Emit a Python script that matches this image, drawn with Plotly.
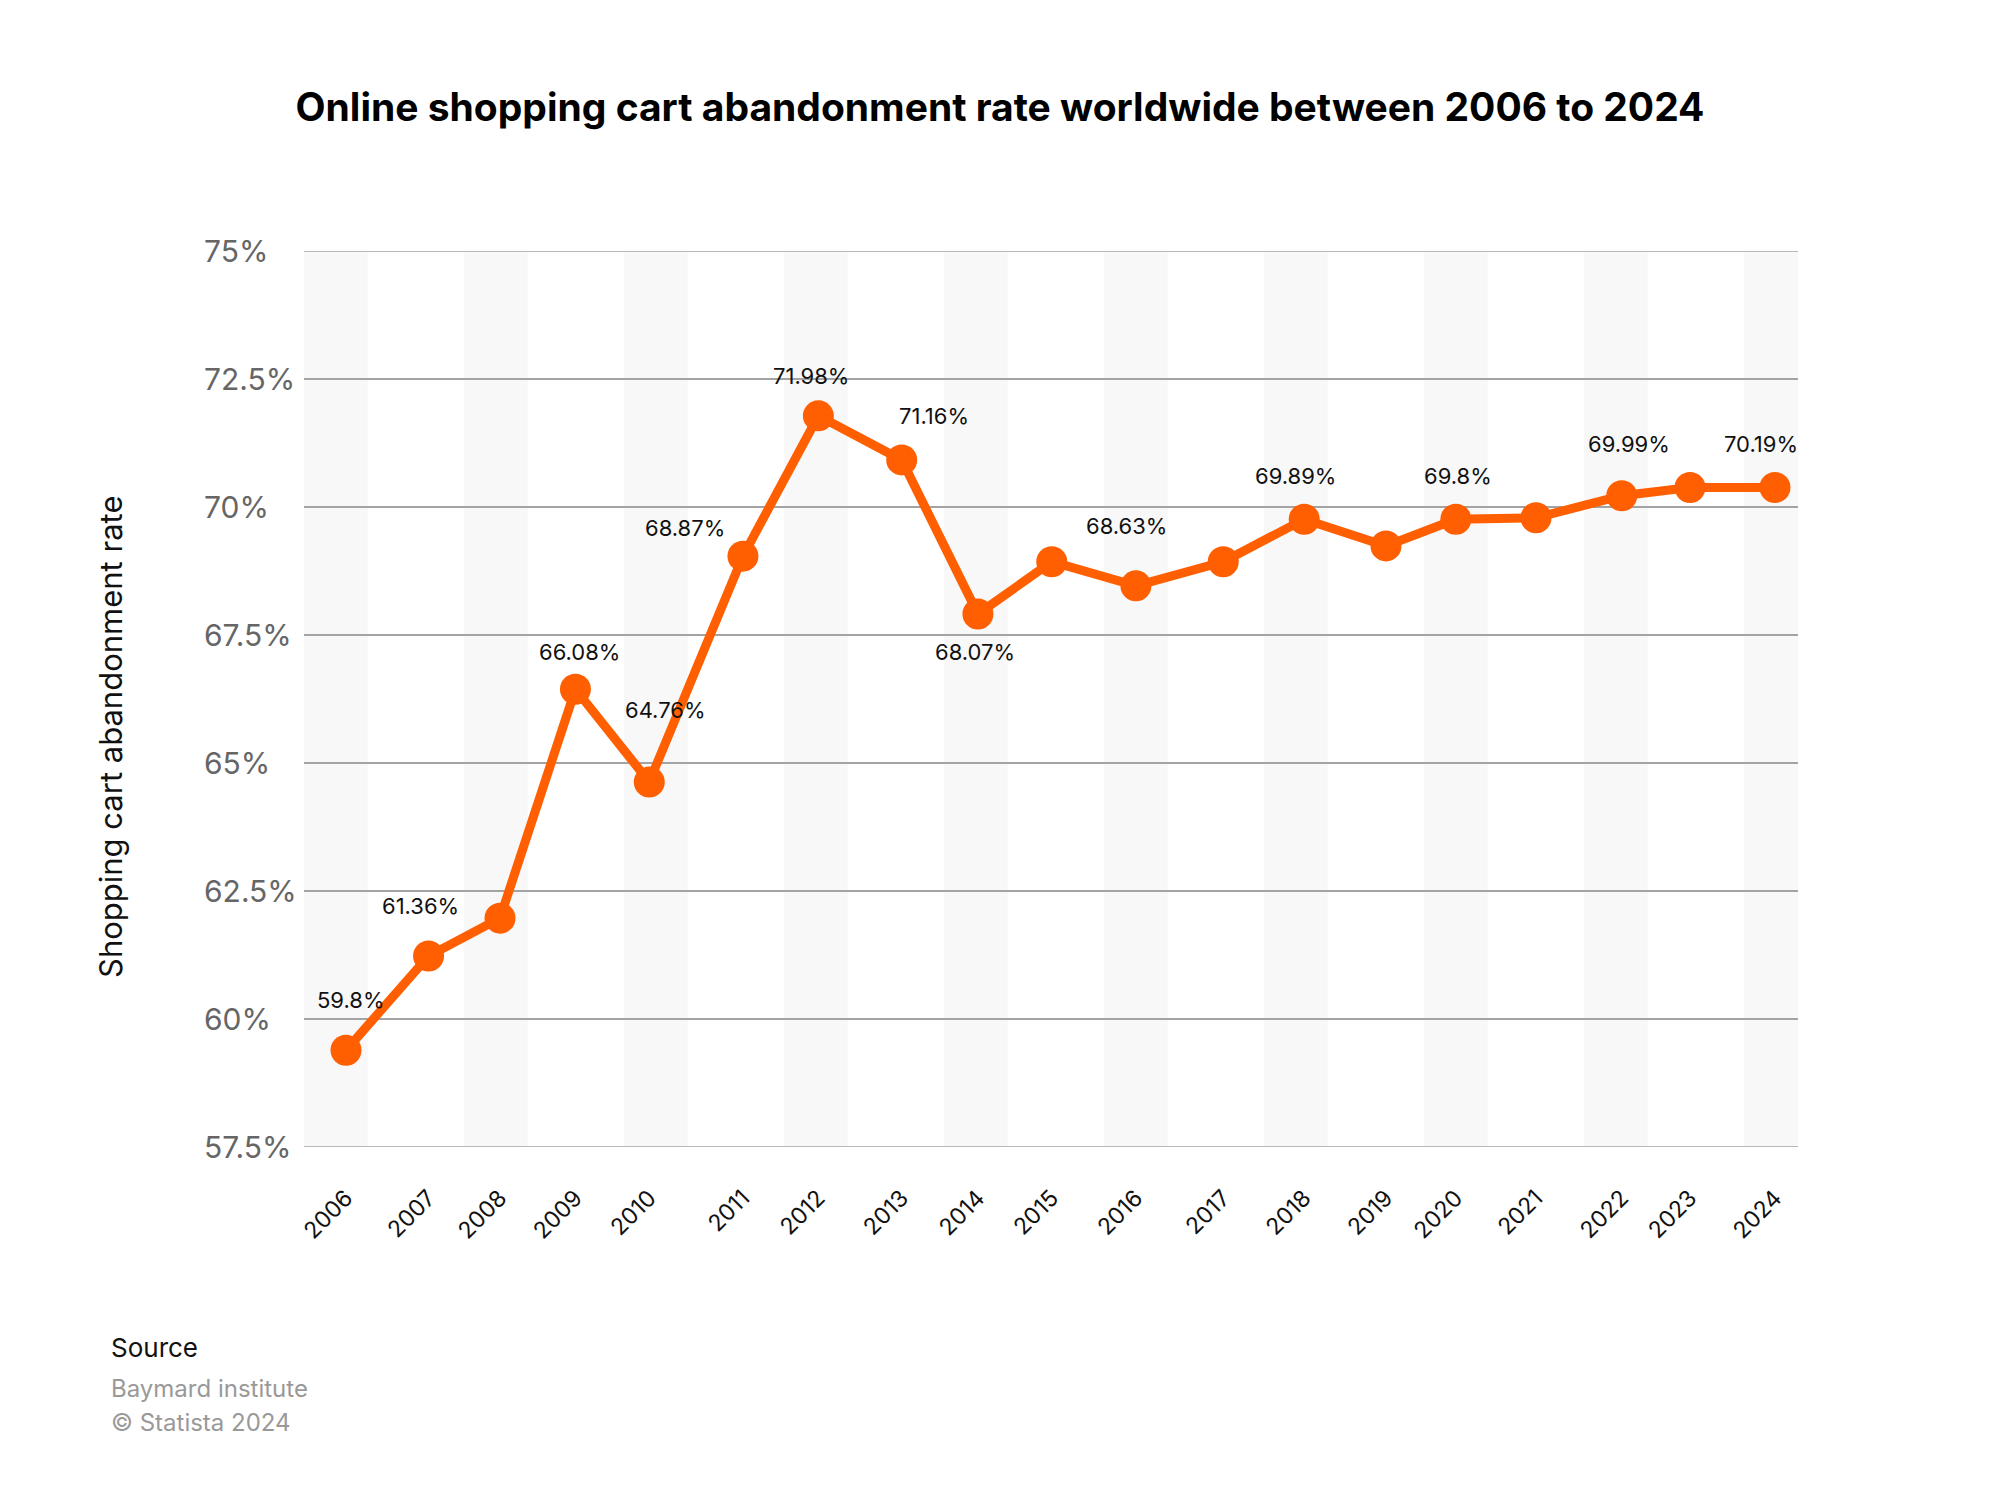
import plotly.graph_objects as go

# ---------------- data ----------------
years = ["2006", "2007", "2008", "2009", "2010", "2011", "2012", "2013", "2014", "2015",
         "2016", "2017", "2018", "2019", "2020", "2021", "2022", "2023", "2024"]
# position of each survey point along the time axis
year_position = [2006.00, 2007.04, 2007.94, 2008.89, 2009.82, 2011.00, 2011.95, 2013.00,
                 2013.96, 2014.89, 2015.95, 2017.05, 2018.07, 2019.10, 2019.98, 2020.99,
                 2022.07, 2022.93, 2024.00]
rate = [59.39, 61.23, 61.97, 66.44, 64.63, 69.04, 71.78, 70.92, 67.91, 68.93,
        68.46, 68.93, 69.76, 69.24, 69.76, 69.79, 70.22, 70.38, 70.38]

label_years = ["2006", "2007", "2009", "2010", "2011", "2012", "2013", "2014",
               "2016", "2018", "2020", "2022", "2024"]
label_texts = ["59.8%", "61.36%", "66.08%", "64.76%", "68.87%", "71.98%", "71.16%",
               "68.07%", "68.63%", "69.89%", "69.8%", "69.99%", "70.19%"]

y_ticks = [57.5, 60, 62.5, 65, 67.5, 70, 72.5, 75]
y_tick_labels = ["57.5%", "60%", "62.5%", "65%", "67.5%", "70%", "72.5%", "75%"]

title_text = "Online shopping cart abandonment rate worldwide between 2006 to 2024"
y_title = "Shopping cart abandonment rate"
source_head = "Source"
source_lines = ["Baymard institute", "© Statista 2024"]

# ---------------- style ----------------
ORANGE = "#FF5F00"
FONT = "Inter"
GRID = "#A3A3A3"
W, H = 2000, 1486
ML, MR, MT, MB = 304, 202, 251, 339
PW, PH = W - ML - MR, H - MT - MB


def px_to_paper_x(px):
    return (px - ML) / PW


def px_to_paper_y(py):
    return (H - MB - py) / PH


# label offsets from their point, in pixels (dx right, dy up)
label_offsets = {
    "2006": (5, 50), "2007": (-8, 50), "2009": (4, 37), "2010": (16, 72),
    "2011": (-58, 28), "2012": (-7, 40), "2013": (32, 44), "2014": (-3, -38),
    "2016": (-9, 60), "2018": (-9, 43), "2020": (2, 43), "2022": (7, 52),
    "2024": (-14, 44),
}

fig = go.Figure()

fig.add_trace(go.Scatter(
    x=year_position, y=rate, mode="lines+markers",
    line=dict(color=ORANGE, width=9),
    marker=dict(color=ORANGE, size=31),
    hoverinfo="skip", showlegend=False, cliponaxis=False,
))

# alternating light column bands
shapes = []
period = 160 / PW
band_w = 63.7 / PW
k = 0
while k * period < 1:
    x0 = k * period
    x1 = min(1.0, x0 + band_w)
    shapes.append(dict(type="rect", xref="x domain", yref="y domain",
                       x0=x0, x1=x1, y0=0, y1=1, fillcolor="#F8F8F8",
                       line=dict(width=0), layer="below"))
    k += 1

# grid lines at the two range edges (plotly skips them)
for v in (y_ticks[0], y_ticks[-1]):
    shapes.append(dict(type="line", xref="x domain", yref="y", x0=0, x1=1, y0=v, y1=v,
                       line=dict(color=GRID, width=1.5), layer="below"))

annotations = []
# data labels
pos_of = dict(zip(years, year_position))
val_of = dict(zip(years, rate))
for yr, txt in zip(label_years, label_texts):
    dx, dy = label_offsets[yr]
    annotations.append(dict(
        x=pos_of[yr], y=val_of[yr], xref="x", yref="y", text=txt,
        showarrow=False, xshift=dx, yshift=dy, xanchor="center", yanchor="middle",
        font=dict(family=FONT, size=22, color="#111111"),
    ))

# y tick labels (left aligned)
for v, t in zip(y_ticks, y_tick_labels):
    annotations.append(dict(
        x=px_to_paper_x(202), y=v, xref="paper", yref="y", text=t, showarrow=False,
        xanchor="left", yanchor="middle",
        font=dict(family=FONT, size=30, color="#666666"),
    ))

# y axis title
annotations.append(dict(
    x=px_to_paper_x(110), y=px_to_paper_y(737), xref="paper", yref="paper", text=y_title,
    showarrow=False, textangle=-90, xanchor="center", yanchor="middle",
    font=dict(family=FONT, size=31, color="#111111"),
))

# source block
annotations.append(dict(
    x=px_to_paper_x(109), y=px_to_paper_y(1347), xref="paper", yref="paper",
    text=source_head, showarrow=False, xanchor="left", yanchor="middle",
    font=dict(family=FONT, size=26, color="#111111"),
))
for i, line in enumerate(source_lines):
    annotations.append(dict(
        x=px_to_paper_x(109), y=px_to_paper_y(1388 + 34 * i), xref="paper", yref="paper",
        text=line, showarrow=False, xanchor="left", yanchor="middle",
        font=dict(family=FONT, size=24, color="#999999"),
    ))

fig.update_layout(
    width=W, height=H, autosize=False,
    margin=dict(l=ML, r=MR, t=MT, b=MB, pad=0),
    paper_bgcolor="white", plot_bgcolor="white",
    title=dict(text=title_text, x=0.5, xref="container", xanchor="center",
               y=1 - 107 / H, yref="container", yanchor="middle",
               font=dict(family=FONT, size=39, color="#000000", weight=700)),
    shapes=shapes, annotations=annotations,
    xaxis=dict(range=[2005.471, 2024.290], tickvals=year_position, ticktext=years,
               tickangle=-45, showgrid=False, zeroline=False, showline=False,
               ticks="", ticklabelstandoff=32, automargin=False,
               tickfont=dict(family=FONT, size=23, color="#111111")),
    yaxis=dict(range=[57.5, 75], tickvals=y_ticks, showticklabels=False,
               showgrid=True, gridcolor=GRID, gridwidth=1.5,
               zeroline=False, showline=False, ticks="", automargin=False),
)

fig.write_html("out.html")
